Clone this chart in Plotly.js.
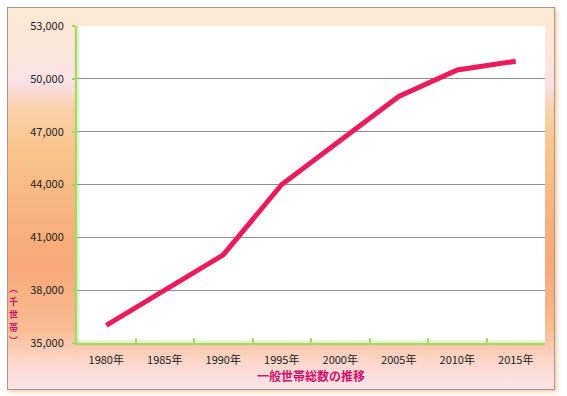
<!DOCTYPE html>
<html>
<head>
<meta charset="utf-8">
<script src="https://cdn.plot.ly/plotly-3.0.1.min.js"></script>
<style>
  html, body { margin:0; padding:0; background:#ffffff; }
  #wrap { position:relative; width:567px; height:396px; }
  #frame {
    position:absolute; left:7px; top:7px; width:546px; height:381px;
    border:1px solid #a39a92;
    box-shadow: 2px 2px 4px rgba(240,180,120,0.7);
    background: linear-gradient(to bottom,
      #fde9d3 0px, #fce6dc 50px, #fbe1e8 75px, #fad2ac 100px, #f9c58c 140px,
      #f8b07c 220px, #f8aa7a 260px, #f9bc92 320px, #fcd8cc 355px, #fde4ea 381px);
  }
  #chart { position:absolute; left:0; top:0; width:567px; height:396px; }
</style>
</head>
<body>
<div id="wrap">
  <div id="frame"></div>
  <div id="chart"></div>
</div>
<script>
const years = ['1980年','1985年','1990年','1995年','2000年','2005年','2010年','2015年'];
const households = [36000, 38000, 40000, 44000, 46500, 49000, 50500, 51000];
const chartTitle = '一般世帯総数の推移';
const yTitleChars = ['︵','千','世','帯','︶'];

const green = '#a6d46a';
const crimson = '#cc1470';

const trace = {
  x: years,
  y: households,
  type: 'scatter',
  mode: 'lines',
  line: { color: '#ea1d5c', width: 5 },
  hoverinfo: 'skip'
};

const yTitleAnnotations = yTitleChars.map((ch, i) => ({
  text: ch,
  xref: 'paper', yref: 'paper',
  x: -0.135, y: 0.173,
  yshift: -i * 13,
  xanchor: 'center', yanchor: 'middle',
  showarrow: false,
  borderpad: 0,
  font: { size: 9, color: crimson, weight: 'bold' }
}));

const layout = {
  width: 567, height: 396,
  margin: { l: 77, r: 22, t: 26, b: 53 },
  paper_bgcolor: 'rgba(0,0,0,0)',
  plot_bgcolor: '#ffffff',
  showlegend: false,
  font: { family: '"Noto Sans CJK JP", "Noto Sans", sans-serif', size: 11, color: '#222222' },
  xaxis: {
    type: 'category',
    range: [-0.5, 7.5],
    showgrid: false,
    showline: true, linecolor: green, linewidth: 2,
    ticks: 'inside', tickson: 'boundaries', ticklen: 5, tickcolor: green, tickwidth: 2,
    ticklabelstandoff: 6,
    tickfont: { size: 11, color: '#222222' },
    title: { text: chartTitle, font: { size: 12, color: crimson, weight: 'bold' }, standoff: 6 },
    zeroline: false, fixedrange: true
  },
  yaxis: {
    range: [35000, 53000],
    tick0: 35000,
    dtick: 3000,
    tickformat: ',d',
    showgrid: true, gridcolor: '#8f8f8f', gridwidth: 1,
    showline: true, linecolor: green, linewidth: 2,
    ticks: 'outside', ticklen: 3, tickcolor: green, tickwidth: 2,
    ticklabelstandoff: 6,
    tickfont: { size: 11, color: '#222222' },
    zeroline: false, fixedrange: true
  },
  annotations: yTitleAnnotations,
  shapes: [
    { type: 'line', xref: 'paper', yref: 'paper', x0: 0, x1: 0, y0: 0, y1: 1,
      line: { color: 'rgba(170,220,100,0.35)', width: 5 }, layer: 'above' },
    { type: 'line', xref: 'paper', yref: 'paper', x0: 0, x1: 1, y0: 0, y1: 0,
      line: { color: 'rgba(170,220,100,0.35)', width: 5 }, layer: 'above' }
  ]
};

Plotly.newPlot('chart', [trace], layout, { displayModeBar: false, staticPlot: true });
</script>
</body>
</html>
